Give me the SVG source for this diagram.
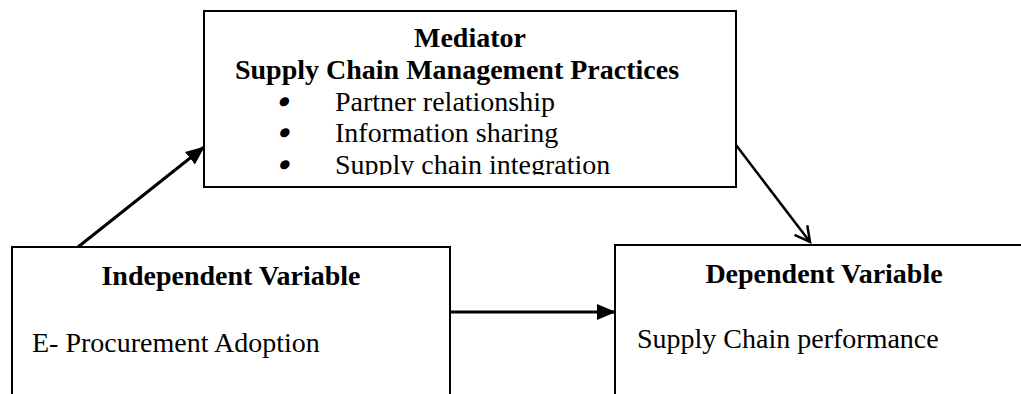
<svg xmlns="http://www.w3.org/2000/svg" width="1021" height="394" viewBox="0 0 1021 394">
  <style>
    .box { fill: #ffffff; stroke: #000000; stroke-width: 2; }
    .t { font-family: "Liberation Serif", "Times New Roman", serif; font-size: 28px; fill: #000000; }
    .b { font-weight: bold; }
    .c { text-anchor: middle; }
    .bul { font-family: "Liberation Serif", "Times New Roman", serif; font-size: 34px; font-weight: bold; fill: #000000; text-anchor: middle; }
    .conn { stroke: #000000; fill: none; }
  </style>
  <defs>
    <marker id="filled" markerUnits="userSpaceOnUse" markerWidth="20" markerHeight="16" refX="18" refY="8" orient="auto">
      <path d="M0,0 L19,8 L0,16 Z" fill="#000000"/>
    </marker>
    <marker id="open" markerUnits="userSpaceOnUse" markerWidth="20" markerHeight="20" refX="17" refY="10" orient="auto">
      <path d="M2,2 L17,10 L2,18" fill="none" stroke="#000000" stroke-width="2.5"/>
    </marker>
    <clipPath id="medclip">
      <rect x="204" y="11" width="532" height="164"/>
    </clipPath>
  </defs>

  <g id="connectors">
    <line class="conn" x1="78" y1="247" x2="204" y2="147" stroke-width="3" marker-end="url(#filled)"/>
    <line class="conn" x1="736" y1="145" x2="810" y2="242" stroke-width="2.5" marker-end="url(#open)"/>
    <line class="conn" x1="451" y1="312" x2="615" y2="312" stroke-width="3" marker-end="url(#filled)"/>
  </g>

  <g id="mediator">
    <rect class="box" x="204" y="11" width="532" height="176"/>
    <text class="t b c" x="470" y="47">Mediator</text>
    <text class="t b c" x="457" y="79">Supply Chain Management Practices</text>
    <g clip-path="url(#medclip)">
      <text class="bul" x="283" y="113" transform="skewX(-12) translate(23,0)">•</text>
      <text class="t" x="335" y="111">Partner relationship</text>
      <text class="bul" x="283" y="144" transform="skewX(-12) translate(30,0)">•</text>
      <text class="t" x="335" y="142">Information sharing</text>
      <text class="bul" x="283" y="176" transform="skewX(-12) translate(37,0)">•</text>
      <text class="t" x="335" y="174">Supply chain integration</text>
    </g>
  </g>

  <g id="independent">
    <rect class="box" x="12" y="247" width="438" height="160"/>
    <text class="t b c" x="231" y="285">Independent Variable</text>
    <text class="t" x="32" y="352">E- Procurement Adoption</text>
  </g>

  <g id="dependent">
    <rect class="box" x="615" y="245" width="420" height="160"/>
    <text class="t b c" x="824" y="283">Dependent Variable</text>
    <text class="t" x="637" y="348">Supply Chain performance</text>
  </g>
</svg>
